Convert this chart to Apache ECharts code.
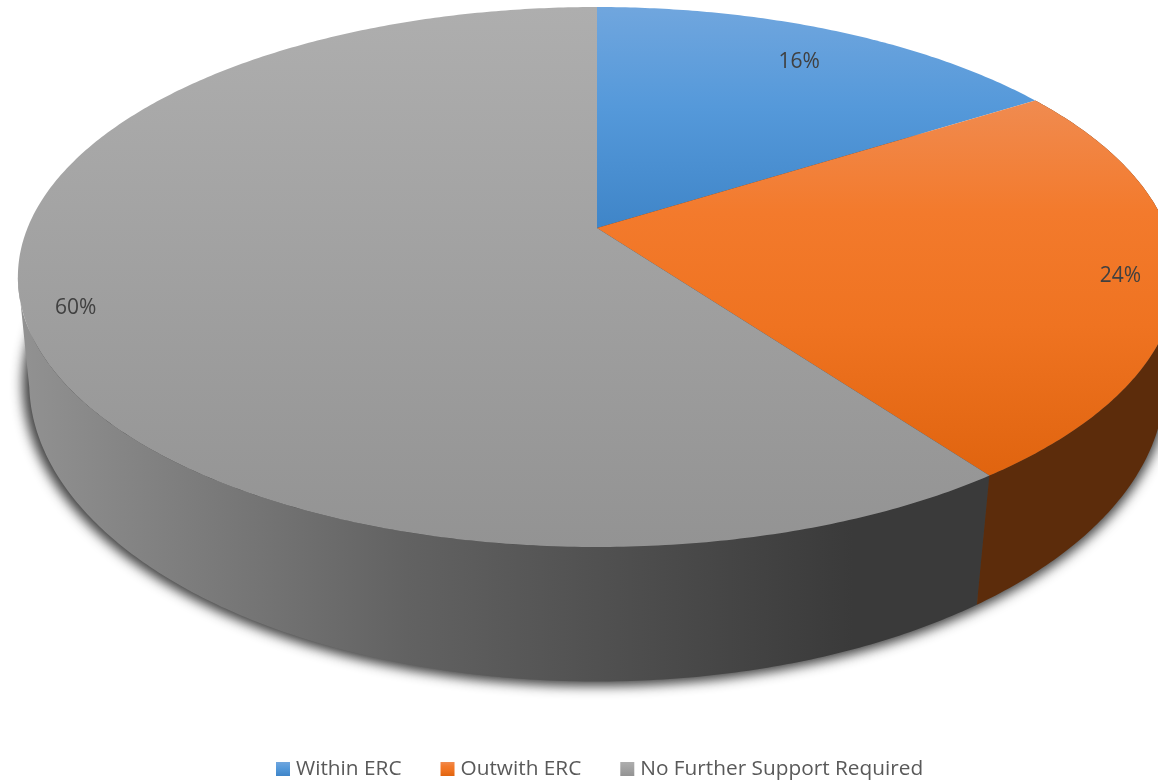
<!DOCTYPE html>
<html>
<head>
<meta charset="utf-8">
<style>html,body{margin:0;padding:0;background:#fff}#c{width:1158px;height:782px}</style>
<script src="https://cdn.jsdelivr.net/npm/echarts@6/dist/echarts.min.js"></script>
</head>
<body>
<div id="c"></div>
<script>
const categories = ['Within ERC', 'Outwith ERC', 'No Further Support Required'];
const seriesValues = [16, 24, 60];
const topStops = [
  [[0, '#70a6de'], [0.45, '#5599da'], [1, '#3f85c8']],
  [[0, '#f08b50'], [0.3, '#f37a2c'], [0.6, '#ef7321'], [1, '#e0640f']],
  [[0, '#aeaeae'], [1, '#939393']]
];
const labelRadius = [0.83, 0.905, 0.915];

const total = seriesValues.reduce((a, b) => a + b, 0);
const TOP = { x: 597, y: 228, bx: 569.5, ay: 261.1, k: 0.1815 };
const LOW = { x: 597, y: 333, bx: 560, ay: 291, k: 0.165 };
const SHADOW = { x: 595.5, y: 334, bx: 565, ay: 294, k: 0.165 };
const SILHOUETTE = 1.442 * Math.PI;
const OFF = 3000;
const grad = (x2, y2, stops) => new echarts.graphic.LinearGradient(0, 0, x2, y2, stops.map(s => ({ offset: s[0], color: s[1] })));

function rim(d, theta, f) {
  const r = f === undefined ? 1 : f;
  const u = Math.sin(theta) * r, v = Math.cos(theta) * r, w = 1 + d.k * v;
  return [d.x + d.bx * u / w, d.y - d.ay * v / w];
}
function arc(d, a, b) {
  const n = Math.max(2, Math.ceil(Math.abs(b - a) / 0.01)), pts = [];
  for (let i = 0; i <= n; i++) pts.push(rim(d, a + (b - a) * i / n));
  return pts;
}
const startOf = i => seriesValues.slice(0, i).reduce((a, b) => a + b, 0) / total * 2 * Math.PI;
const endOf = i => startOf(i + 1);

const wallFill = [null, '#5c2c0b', grad(1, 0, [[0, '#929292'], [0.4, '#626262'], [0.86, '#3a3a3a'], [1, '#3a3a3a']])];

function sideItem(i) {
  const a = startOf(i), b = Math.min(endOf(i), SILHOUETTE);
  if (i === 0) return null;
  return {
    type: 'polygon', silent: true,
    shape: { points: arc(TOP, a, b).concat(arc(LOW, b, a)) },
    style: { fill: wallFill[i] }
  };
}
function topItem(i) {
  return {
    type: 'polygon', silent: true, z2: 5,
    shape: { points: [[TOP.x, TOP.y]].concat(arc(TOP, startOf(i), endOf(i))) },
    style: { fill: grad(0, 1, topStops[i]) }
  };
}
function labelItem(i) {
  const mid = (startOf(i) + endOf(i)) / 2, p = rim(TOP, mid, labelRadius[i]);
  return {
    type: 'text', silent: true, z2: 10,
    style: {
      x: p[0] + 1, y: p[1] + 2, text: Math.round(seriesValues[i] / total * 100) + '%',
      fill: '#404040', font: '21px "Open Sans", sans-serif', align: 'center', verticalAlign: 'middle'
    }
  };
}
// Soft drop shadow only: the casting shape sits off-canvas so just its blur lands under the pie
const shadowItem = () => ({
  type: 'polygon', silent: true,
  shape: { points: arc(SHADOW, 0, 2 * Math.PI).map(p => [p[0], p[1] + OFF]) },
  style: { fill: '#000', shadowBlur: 12, shadowColor: 'rgba(30,30,30,0.85)', shadowOffsetY: -OFF }
});

const drawOrder = [2, 1, 0];
const series = drawOrder.map((i, order) => ({
  type: 'custom',
  name: categories[i],
  coordinateSystem: 'none',
  silent: true,
  clip: false,
  z: 2 + order,
  itemStyle: { color: grad(0, 1, topStops[i]) },
  data: [[seriesValues[i]]],
  renderItem: () => ({
    type: 'group',
    children: [order === 0 ? shadowItem() : null, sideItem(i)].filter(Boolean)
  })
})).concat(categories.map((name, i) => ({
  type: 'custom',
  name,
  coordinateSystem: 'none',
  silent: true,
  z: 10,
  itemStyle: { color: grad(0, 1, topStops[i]) },
  data: [[seriesValues[i]]],
  renderItem: () => ({ type: 'group', children: [topItem(i), labelItem(i)] })
})));

const chart = echarts.init(document.getElementById('c'), null, { renderer: 'canvas' });
chart.setOption({
  animation: false,
  backgroundColor: '#fff',
  tooltip: { show: false },
  legend: {
    data: categories,
    left: 276,
    top: 755,
    padding: 0,
    itemWidth: 14,
    itemHeight: 14,
    itemGap: 39,
    selectedMode: false,
    icon: 'rect',
    textStyle: { color: '#595959', fontSize: 20.8, fontFamily: '"Open Sans", sans-serif', padding: [0, 0, 0, 1], lineHeight: 28 }
  },
  series
});
</script>
</body>
</html>
